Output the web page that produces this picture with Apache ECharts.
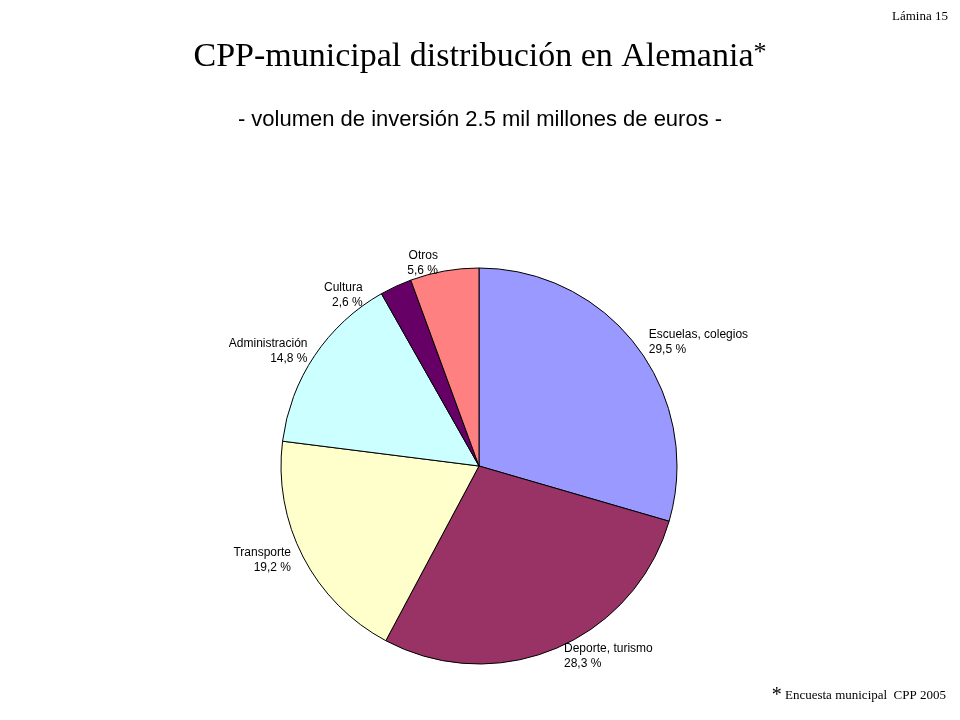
<!DOCTYPE html>
<html><head><meta charset="utf-8">
<script src="https://cdn.jsdelivr.net/npm/echarts@6/dist/echarts.min.js"></script>
<style>html,body{margin:0;padding:0;background:#fff}#c{width:960px;height:720px}</style>
</head><body><div id="c"></div>
<script>
const categories = ['Escuelas, colegios','Deporte, turismo','Transporte','Administración','Cultura','Otros'];
const values = [29.5, 28.3, 19.2, 14.8, 2.6, 5.6];
const colors = ['#9999FF','#993366','#FFFFCC','#CCFFFF','#660066','#FF8080'];
const chart = echarts.init(document.getElementById('c'));
chart.setOption({
  animation:false,
  graphic:[
    {type:'text',left:'center',top:40,style:{rich:{a:{font:'34px "Liberation Serif"',fill:'#000'},b:{font:'26px "Liberation Serif"',fill:'#000',verticalAlign:'top'}},text:'{a|CPP-municipal distribución en Alemania}{b|*}'}},
    {type:'text',left:'center',top:109,style:{text:'- volumen de inversión 2.5 mil millones de euros -',font:'22px "Liberation Sans"',fill:'#000'}},
    {type:'text',right:12,top:10,style:{text:'Lámina 15',font:'13px "Liberation Serif"',fill:'#000'}},
    {type:'text',right:14,top:686,style:{rich:{s:{font:'20px "Liberation Serif"',fill:'#000'},t:{font:'13px "Liberation Serif"',fill:'#000'}},text:'{s|*} {t|Encuesta municipal  CPP 2005}'}}
  ],
  series:[{
    type:'pie', center:[479,466], radius:198, startAngle:90, clockwise:true,
    data: categories.map((n,i)=>({name:n,value:values[i],itemStyle:{color:colors[i]}})),
    itemStyle:{borderColor:'#000',borderWidth:1},
    label:{show:true,position:'outside',distance:8,formatter:p=>p.name+'\n'+p.value.toFixed(1).replace('.',',')+' %',
      font:'bold 11px "Liberation Sans"',color:'#000',align:'center',lineHeight:15},
    labelLine:{show:false,length:8,length2:0},
    emphasis:{disabled:true}
  }]
});
</script></body></html>
